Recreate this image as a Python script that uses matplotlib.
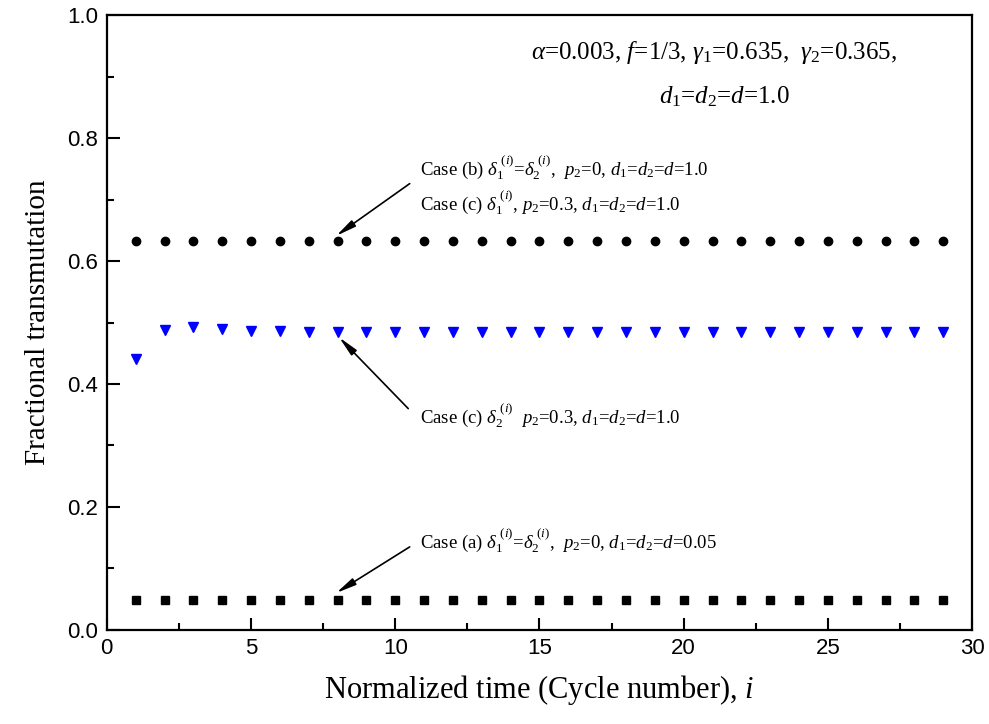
import matplotlib
matplotlib.use("Agg")
import matplotlib.pyplot as plt
import numpy as np

# ---- data ----
cycles = list(range(1, 30))
case_b = [0.632] * 29
case_a = [0.048] * 29
case_c2 = [0.440, 0.488, 0.493, 0.490, 0.487, 0.486] + [0.485] * 23

x_ticks = [0, 5, 10, 15, 20, 25, 30]
y_ticks = [0.0, 0.2, 0.4, 0.6, 0.8, 1.0]

plt.rcParams['mathtext.fontset'] = 'custom'
plt.rcParams['mathtext.rm'] = 'Liberation Serif'
plt.rcParams['mathtext.it'] = 'Liberation Serif:italic'
plt.rcParams['mathtext.bf'] = 'Liberation Serif:bold'

fig = plt.figure(figsize=(9.89, 7.24), dpi=100)
ax = fig.add_axes([0.108, 0.130, 0.875, 0.849])

ax.plot(cycles, case_b, linestyle='none', marker='o', color='black', markersize=6)
ax.plot(cycles, case_c2, linestyle='none', marker='v', color='#0000ff', markersize=7)
ax.plot(cycles, case_a, linestyle='none', marker='s', color='black', markersize=6)

ax.set_xlim(0, 30)
ax.set_ylim(0, 1.0)
ax.set_xticks(x_ticks)
ax.set_yticks(y_ticks)
ax.set_xticklabels([str(v) for v in x_ticks], family='Liberation Sans', fontsize=16)
ax.set_yticklabels([f"{v:.1f}" for v in y_ticks], family='Liberation Sans', fontsize=16)
ax.set_xticks(np.arange(2.5, 30, 5), minor=True)
ax.set_yticks(np.arange(0.1, 1.0, 0.2), minor=True)
ax.tick_params(which='both', direction='in', top=False, right=False, width=1.5)
ax.tick_params(which='major', length=9, pad=6)
ax.tick_params(which='minor', length=5)
for s in ax.spines.values():
    s.set_linewidth(1.6)

ax.set_xlabel(r"Normalized time (Cycle number), $i$", family='Liberation Serif', fontsize=22, labelpad=10)
ax.set_ylabel("Fractional transmutation", family='Liberation Serif', fontsize=21, labelpad=12)

fs = 13.5
arrow = dict(arrowstyle='-|>,head_width=0.22,head_length=1.2', color='black', lw=1.2,
             shrinkA=0, shrinkB=0)

ax.text(10.85, 0.752, r"Case (b) $\delta_1^{\ (i)}$=$\delta_2^{\ (i)}$,  $p_2$=0, $d_1$=$d_2$=$d$=1.0",
        family='Liberation Serif', fontsize=fs, va='center', ha='left')
ax.text(10.85, 0.694, r"Case (c) $\delta_1^{\ (i)}$, $p_2$=0.3, $d_1$=$d_2$=$d$=1.0",
        family='Liberation Serif', fontsize=fs, va='center', ha='left')
ax.annotate("", xy=(7.95, 0.641), xytext=(10.5, 0.726), arrowprops=arrow)

ax.text(10.85, 0.348, r"Case (c) $\delta_2^{\ (i)}$  $p_2$=0.3, $d_1$=$d_2$=$d$=1.0",
        family='Liberation Serif', fontsize=fs, va='center', ha='left')
ax.annotate("", xy=(8.05, 0.476), xytext=(10.45, 0.360), arrowprops=arrow)

ax.text(10.85, 0.145, r"Case (a) $\delta_1^{\ (i)}$=$\delta_2^{\ (i)}$,  $p_2$=0, $d_1$=$d_2$=$d$=0.05",
        family='Liberation Serif', fontsize=fs, va='center', ha='left')
ax.annotate("", xy=(7.95, 0.060), xytext=(10.5, 0.135), arrowprops=arrow)

ax.text(21.05, 0.94, r"$\alpha$=0.003, $f$=1/3, $\gamma_1$=0.635,  $\gamma_2$=0.365,",
        family='Liberation Serif', fontsize=18, va='center', ha='center')
ax.text(21.4, 0.868, r"$d_1$=$d_2$=$d$=1.0",
        family='Liberation Serif', fontsize=18, va='center', ha='center')

fig.savefig("out.png", dpi=100)
